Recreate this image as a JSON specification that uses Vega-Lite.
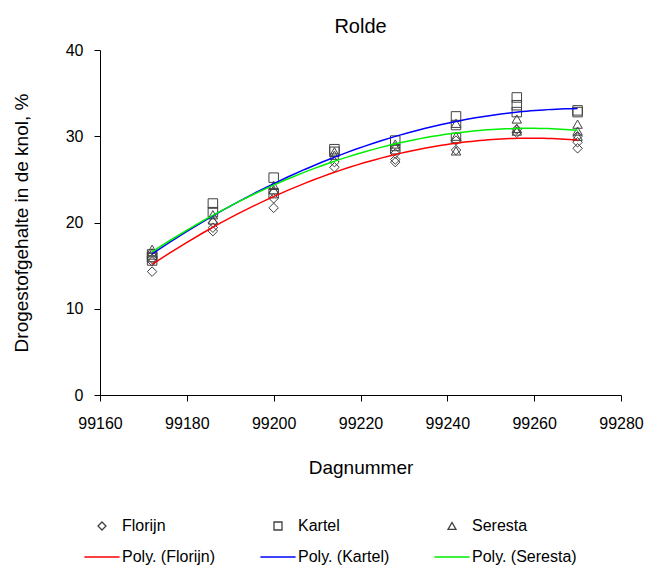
{
  "$schema": "https://vega.github.io/schema/vega-lite/v6.json",
  "width": 521,
  "height": 345,
  "autosize": {"type": "none"},
  "padding": {"left": 100, "top": 50, "right": 28, "bottom": 172},
  "background": "white",
  "title": {"text": "Rolde", "fontSize": 20, "fontWeight": "normal", "font": "Liberation Sans", "offset": 5, "anchor": "middle", "color": "black"},
  "config": {
    "view": {"stroke": null},
    "font": "Liberation Sans",
    "axis": {"grid": false, "labelFlush": false, "domainColor": "black", "tickColor": "black", "labelColor": "black", "titleColor": "black", "labelFont": "Liberation Sans", "titleFont": "Liberation Sans", "labelFontSize": 16, "titleFontSize": 19, "titleFontWeight": "normal", "tickSize": 6, "domainWidth": 1, "tickWidth": 1},
    "legend": {"labelFont": "Liberation Sans", "labelFontSize": 16, "labelColor": "black"}
  },
  "data": {"values": [
    {"day": 99172, "variety": "Florijn", "trend": "Poly. (Florijn)", "dm": 14.3},
    {"day": 99172, "variety": "Florijn", "trend": "Poly. (Florijn)", "dm": 15.5},
    {"day": 99172, "variety": "Florijn", "trend": "Poly. (Florijn)", "dm": 15.8},
    {"day": 99172, "variety": "Kartel", "trend": "Poly. (Kartel)", "dm": 15.6},
    {"day": 99172, "variety": "Kartel", "trend": "Poly. (Kartel)", "dm": 16.0},
    {"day": 99172, "variety": "Kartel", "trend": "Poly. (Kartel)", "dm": 16.3},
    {"day": 99172, "variety": "Seresta", "trend": "Poly. (Seresta)", "dm": 16.5},
    {"day": 99172, "variety": "Seresta", "trend": "Poly. (Seresta)", "dm": 16.9},
    {"day": 99186, "variety": "Florijn", "trend": "Poly. (Florijn)", "dm": 19.0},
    {"day": 99186, "variety": "Florijn", "trend": "Poly. (Florijn)", "dm": 19.4},
    {"day": 99186, "variety": "Florijn", "trend": "Poly. (Florijn)", "dm": 20.0},
    {"day": 99186, "variety": "Kartel", "trend": "Poly. (Kartel)", "dm": 21.2},
    {"day": 99186, "variety": "Kartel", "trend": "Poly. (Kartel)", "dm": 22.2},
    {"day": 99186, "variety": "Seresta", "trend": "Poly. (Seresta)", "dm": 20.3},
    {"day": 99186, "variety": "Seresta", "trend": "Poly. (Seresta)", "dm": 20.9},
    {"day": 99200, "variety": "Florijn", "trend": "Poly. (Florijn)", "dm": 21.7},
    {"day": 99200, "variety": "Florijn", "trend": "Poly. (Florijn)", "dm": 22.8},
    {"day": 99200, "variety": "Florijn", "trend": "Poly. (Florijn)", "dm": 23.5},
    {"day": 99200, "variety": "Kartel", "trend": "Poly. (Kartel)", "dm": 23.4},
    {"day": 99200, "variety": "Kartel", "trend": "Poly. (Kartel)", "dm": 25.2},
    {"day": 99200, "variety": "Seresta", "trend": "Poly. (Seresta)", "dm": 23.8},
    {"day": 99200, "variety": "Seresta", "trend": "Poly. (Seresta)", "dm": 24.3},
    {"day": 99214, "variety": "Florijn", "trend": "Poly. (Florijn)", "dm": 26.4},
    {"day": 99214, "variety": "Florijn", "trend": "Poly. (Florijn)", "dm": 27.0},
    {"day": 99214, "variety": "Kartel", "trend": "Poly. (Kartel)", "dm": 28.2},
    {"day": 99214, "variety": "Kartel", "trend": "Poly. (Kartel)", "dm": 28.5},
    {"day": 99214, "variety": "Seresta", "trend": "Poly. (Seresta)", "dm": 27.8},
    {"day": 99214, "variety": "Seresta", "trend": "Poly. (Seresta)", "dm": 28.2},
    {"day": 99228, "variety": "Florijn", "trend": "Poly. (Florijn)", "dm": 27.0},
    {"day": 99228, "variety": "Florijn", "trend": "Poly. (Florijn)", "dm": 27.3},
    {"day": 99228, "variety": "Florijn", "trend": "Poly. (Florijn)", "dm": 28.0},
    {"day": 99228, "variety": "Kartel", "trend": "Poly. (Kartel)", "dm": 28.5},
    {"day": 99228, "variety": "Kartel", "trend": "Poly. (Kartel)", "dm": 29.5},
    {"day": 99228, "variety": "Seresta", "trend": "Poly. (Seresta)", "dm": 28.8},
    {"day": 99228, "variety": "Seresta", "trend": "Poly. (Seresta)", "dm": 29.1},
    {"day": 99242, "variety": "Florijn", "trend": "Poly. (Florijn)", "dm": 29.5},
    {"day": 99242, "variety": "Florijn", "trend": "Poly. (Florijn)", "dm": 28.4},
    {"day": 99242, "variety": "Kartel", "trend": "Poly. (Kartel)", "dm": 32.3},
    {"day": 99242, "variety": "Kartel", "trend": "Poly. (Kartel)", "dm": 31.3},
    {"day": 99242, "variety": "Kartel", "trend": "Poly. (Kartel)", "dm": 29.8},
    {"day": 99242, "variety": "Seresta", "trend": "Poly. (Seresta)", "dm": 31.5},
    {"day": 99242, "variety": "Seresta", "trend": "Poly. (Seresta)", "dm": 30.0},
    {"day": 99242, "variety": "Seresta", "trend": "Poly. (Seresta)", "dm": 28.3},
    {"day": 99256, "variety": "Florijn", "trend": "Poly. (Florijn)", "dm": 30.4},
    {"day": 99256, "variety": "Florijn", "trend": "Poly. (Florijn)", "dm": 30.8},
    {"day": 99256, "variety": "Kartel", "trend": "Poly. (Kartel)", "dm": 34.5},
    {"day": 99256, "variety": "Kartel", "trend": "Poly. (Kartel)", "dm": 33.6},
    {"day": 99256, "variety": "Kartel", "trend": "Poly. (Kartel)", "dm": 32.8},
    {"day": 99256, "variety": "Seresta", "trend": "Poly. (Seresta)", "dm": 32.0},
    {"day": 99256, "variety": "Seresta", "trend": "Poly. (Seresta)", "dm": 30.9},
    {"day": 99256, "variety": "Seresta", "trend": "Poly. (Seresta)", "dm": 30.6},
    {"day": 99270, "variety": "Florijn", "trend": "Poly. (Florijn)", "dm": 28.6},
    {"day": 99270, "variety": "Florijn", "trend": "Poly. (Florijn)", "dm": 29.3},
    {"day": 99270, "variety": "Florijn", "trend": "Poly. (Florijn)", "dm": 30.0},
    {"day": 99270, "variety": "Kartel", "trend": "Poly. (Kartel)", "dm": 33.0},
    {"day": 99270, "variety": "Kartel", "trend": "Poly. (Kartel)", "dm": 32.8},
    {"day": 99270, "variety": "Seresta", "trend": "Poly. (Seresta)", "dm": 31.4},
    {"day": 99270, "variety": "Seresta", "trend": "Poly. (Seresta)", "dm": 30.6},
    {"day": 99270, "variety": "Seresta", "trend": "Poly. (Seresta)", "dm": 30.0}
  ]},
  "layer": [
    {
      "mark": {"type": "point", "filled": false, "strokeWidth": 1, "size": 90, "opacity": 1},
      "encoding": {
        "x": {"field": "day", "type": "quantitative", "scale": {"domain": [99160, 99280], "zero": false, "nice": false}, "axis": {"values": [99160, 99180, 99200, 99220, 99240, 99260, 99280], "format": "d", "title": "Dagnummer", "titlePadding": 27, "labelPadding": 14}},
        "y": {"field": "dm", "type": "quantitative", "scale": {"domain": [0, 40], "nice": false}, "axis": {"values": [0, 10, 20, 30, 40], "title": "Drogestofgehalte in de knol, %", "titlePadding": 34, "labelPadding": 11}},
        "color": {"field": "variety", "type": "nominal", "scale": {"domain": ["Florijn", "Kartel", "Seresta", "Poly. (Florijn)", "Poly. (Kartel)", "Poly. (Seresta)"], "range": ["#404040", "#404040", "#404040", "#ff0000", "#0000ff", "#00ee00"]}, "legend": {"title": null, "orient": "none", "direction": "horizontal", "legendX": -6, "legendY": 468, "columns": 3, "symbolSize": 64, "labelOffset": 12, "columnPadding": 41, "rowPadding": 15, "symbolStrokeWidth": 1.3}},
        "shape": {"field": "variety", "type": "nominal", "scale": {"domain": ["Florijn", "Kartel", "Seresta", "Poly. (Florijn)", "Poly. (Kartel)", "Poly. (Seresta)"], "range": ["diamond", "square", "triangle-up", "M-4.4,0H4.4", "M-4.4,0H4.4", "M-4.4,0H4.4"]}, "legend": {"title": null, "orient": "none", "direction": "horizontal", "legendX": -6, "legendY": 468, "columns": 3, "symbolSize": 64, "labelOffset": 12, "columnPadding": 41, "rowPadding": 15, "symbolStrokeWidth": 1.3}}
      }
    },
    {
      "transform": [{"regression": "dm", "on": "day", "method": "poly", "order": 2, "groupby": ["trend"], "extent": [99172, 99270]}],
      "mark": {"type": "line", "strokeWidth": 1.5},
      "encoding": {
        "x": {"field": "day", "type": "quantitative"},
        "y": {"field": "dm", "type": "quantitative"},
        "color": {"field": "trend", "type": "nominal", "legend": null}
      }
    }
  ]
}
